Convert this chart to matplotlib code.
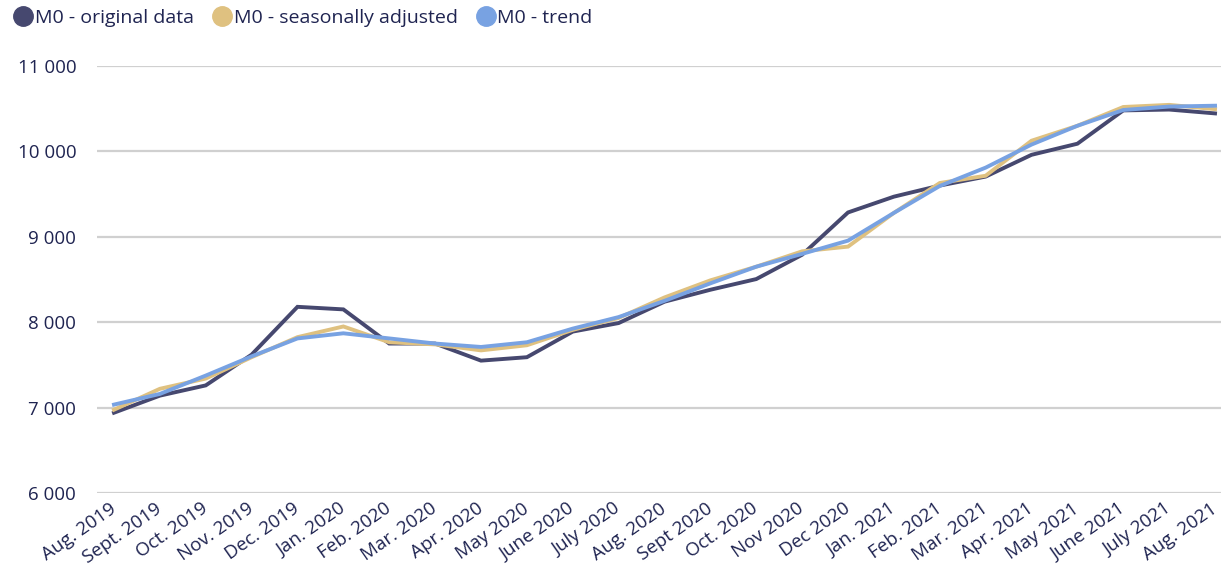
import matplotlib.pyplot as plt
from matplotlib.lines import Line2D
from matplotlib.ticker import FuncFormatter

months = ["Aug. 2019", "Sept. 2019", "Oct. 2019", "Nov. 2019", "Dec. 2019",
          "Jan. 2020", "Feb. 2020", "Mar. 2020", "Apr. 2020", "May 2020",
          "June 2020", "July 2020", "Aug. 2020", "Sept 2020", "Oct. 2020",
          "Nov 2020", "Dec 2020", "Jan. 2021", "Feb. 2021", "Mar. 2021",
          "Apr. 2021", "May 2021", "June 2021", "July 2021", "Aug. 2021"]

original = [6940, 7140, 7260, 7620, 8180, 8150, 7750, 7750, 7550, 7590,
            7890, 7990, 8240, 8380, 8505, 8790, 9285, 9470, 9600, 9705,
            9960, 10090, 10480, 10490, 10445]
seas_adj = [6975, 7220, 7340, 7590, 7825, 7950, 7765, 7740, 7670, 7730,
            7910, 8050, 8290, 8490, 8650, 8830, 8885, 9280, 9630, 9715,
            10125, 10300, 10520, 10545, 10495]
trend = [7035, 7160, 7375, 7600, 7810, 7870, 7810, 7750, 7710, 7765,
         7925, 8060, 8250, 8455, 8650, 8800, 8955, 9280, 9595, 9810,
         10080, 10300, 10485, 10525, 10535]

c_orig = '#46486f'
c_seas = '#dfc180'
c_trend = '#78a2e2'
txt = '#1f2451'

plt.rcParams['font.family'] = ['Open Sans', 'DejaVu Sans']

fig = plt.figure(figsize=(12.21, 5.66), dpi=100)
ax = fig.add_axes([97 / 1221, 1 - 493 / 566, 1124 / 1221, 427 / 566])

x = list(range(len(months)))
ax.plot(x, original, color=c_orig, lw=2.8, solid_joinstyle='miter', zorder=3)
ax.plot(x, seas_adj, color=c_seas, lw=2.8, solid_joinstyle='miter', zorder=4)
ax.plot(x, trend, color=c_trend, lw=2.8, solid_joinstyle='miter', zorder=5)

ax.set_ylim(6000, 11000)
ax.set_yticks([6000, 7000, 8000, 9000, 10000, 11000])
ax.yaxis.set_major_formatter(FuncFormatter(lambda v, p: f"{int(v):,}".replace(",", " ")))
ax.set_xlim(-0.37, 24.13)
ax.set_xticks(x)
ax.set_xticklabels(months, rotation=35, ha='right', va='center',
                   rotation_mode='anchor')
ax.tick_params(axis='both', length=0, labelsize=13.5, labelcolor=txt)
ax.tick_params(axis='y', pad=15)
ax.tick_params(axis='x', pad=10)

ax.grid(axis='y', color='#d0d0d0', lw=1.6)
ax.set_axisbelow(True)
for s in ax.spines.values():
    s.set_visible(False)

handles = [Line2D([], [], ls='', marker='o', ms=14, color=c) for c in (c_orig, c_seas, c_trend)]
fig.legend(handles, ["M0 - original data", "M0 - seasonally adjusted", "M0 - trend"],
           loc='upper left', bbox_to_anchor=(-0.005, 1.015), ncol=3, frameon=False,
           fontsize=14, labelcolor=txt, handletextpad=0.0, columnspacing=0.85,
           handlelength=1.2)

plt.savefig("out.png", dpi=100)
